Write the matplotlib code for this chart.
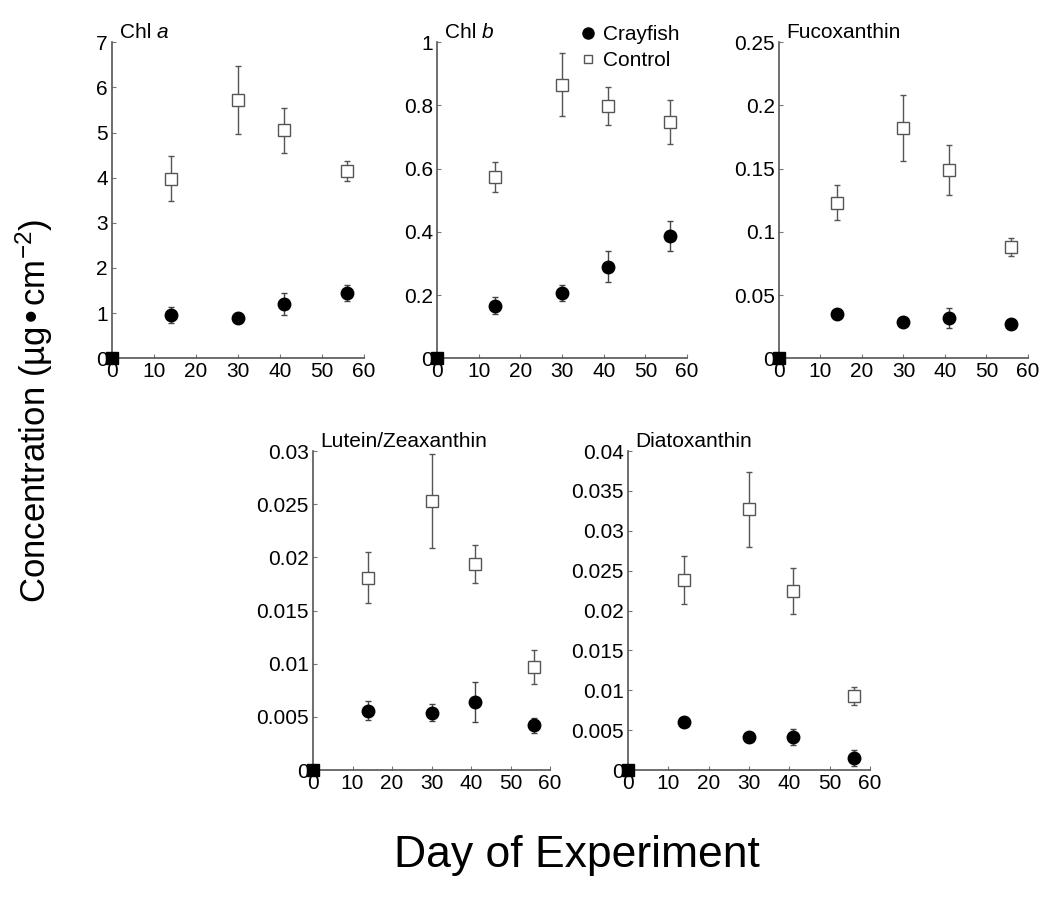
import numpy as np
import matplotlib.pyplot as plt
from matplotlib.lines import Line2D

plt.rcParams["font.family"] = ["Liberation Sans", "DejaVu Sans"]

days = [0, 14, 30, 41, 56]

# Chl a
chla_cray = [0, 0.96, 0.90, 1.20, 1.44]
chla_cray_err = [0, 0.18, 0.10, 0.25, 0.18]
chla_ctrl = [0, 3.98, 5.72, 5.05, 4.15]
chla_ctrl_err = [0, 0.50, 0.75, 0.50, 0.23]

# Chl b
chlb_cray = [0, 0.166, 0.207, 0.290, 0.387]
chlb_cray_err = [0, 0.027, 0.025, 0.048, 0.048]
chlb_ctrl = [0, 0.574, 0.866, 0.797, 0.747]
chlb_ctrl_err = [0, 0.047, 0.100, 0.060, 0.070]

# Fucoxanthin
fuco_cray = [0, 0.035, 0.029, 0.032, 0.027]
fuco_cray_err = [0, 0.003, 0.002, 0.008, 0.003]
fuco_ctrl = [0, 0.123, 0.182, 0.149, 0.088]
fuco_ctrl_err = [0, 0.014, 0.026, 0.020, 0.007]

# Lutein/Zeaxanthin
lut_cray = [0, 0.0056, 0.0054, 0.0064, 0.0042]
lut_cray_err = [0, 0.0009, 0.0008, 0.0019, 0.0007]
lut_ctrl = [0, 0.0181, 0.0253, 0.0194, 0.0097]
lut_ctrl_err = [0, 0.0024, 0.0044, 0.0018, 0.0016]

# Diatoxanthin
diat_cray = [0, 0.0060, 0.0042, 0.0041, 0.0015]
diat_cray_err = [0, 0.0004, 0.0004, 0.0010, 0.0010]
diat_ctrl = [0, 0.0238, 0.0327, 0.0225, 0.0093]
diat_ctrl_err = [0, 0.0030, 0.0047, 0.0029, 0.0011]

panels = [
    # title parts, cray, cray_err, ctrl, ctrl_err, ymax, ystep, rect
    (("Chl ", "a"), chla_cray, chla_cray_err, chla_ctrl, chla_ctrl_err,
     7, 1, [0.107, 0.602, 0.2407, 0.351]),
    (("Chl ", "b"), chlb_cray, chlb_cray_err, chlb_ctrl, chlb_ctrl_err,
     1, 0.2, [0.4174, 0.602, 0.2388, 0.351]),
    (("Fucoxanthin", ""), fuco_cray, fuco_cray_err, fuco_ctrl, fuco_ctrl_err,
     0.25, 0.05, [0.744, 0.602, 0.2378, 0.351]),
    (("Lutein/Zeaxanthin", ""), lut_cray, lut_cray_err, lut_ctrl, lut_ctrl_err,
     0.03, 0.005, [0.299, 0.1444, 0.2264, 0.3544]),
    (("Diatoxanthin", ""), diat_cray, diat_cray_err, diat_ctrl, diat_ctrl_err,
     0.04, 0.005, [0.5998, 0.1444, 0.2311, 0.3544]),
]

fig = plt.figure(figsize=(10.47, 9), dpi=100)

for idx, (title, cray, cray_err, ctrl, ctrl_err, ymax, ystep, rect) in enumerate(panels):
    ax = fig.add_axes(rect)
    ax.errorbar(days[1:], ctrl[1:], yerr=ctrl_err[1:], fmt="s", ms=8,
                mfc="white", mec="#555555", mew=1.0, ecolor="#555555",
                elinewidth=1.0, capsize=2, capthick=1.0, zorder=3,
                clip_on=False)
    ax.errorbar(days[1:], cray[1:], yerr=cray_err[1:], fmt="o", ms=9,
                mfc="black", mec="black", ecolor="#444444",
                elinewidth=1.0, capsize=2, capthick=1.0, zorder=4,
                clip_on=False)
    # day 0 point
    ax.plot(days[0], cray[0], "s", ms=8, color="black", clip_on=False, zorder=5)

    ax.set_xlim(0, 60)
    ax.set_ylim(0, ymax)
    ax.set_xticks(np.arange(0, 61, 10))
    yt = np.round(np.arange(0, ymax + ystep / 2, ystep), 6)
    ax.set_yticks(yt)
    ax.set_yticklabels([f"{v:g}" for v in yt])
    for s in ["top", "right"]:
        ax.spines[s].set_visible(False)
    for s in ["left", "bottom"]:
        ax.spines[s].set_color("#555555")
        ax.spines[s].set_linewidth(1.2)
    ax.tick_params(direction="in", length=3, width=0.8, color="#777777",
                   labelsize=15, pad=3)

    # title next to top of y axis
    t = ax.text(0.03, 1.0, title[0], transform=ax.transAxes, fontsize=15,
                ha="left", va="bottom")
    if title[1]:
        ax.annotate(title[1], xy=(1, 0), xycoords=t,
                    fontsize=15, style="italic", ha="left", va="bottom")

    if idx == 1:
        handles = [
            Line2D([], [], ls="none", marker="o", ms=8, mfc="black", mec="black"),
            Line2D([], [], ls="none", marker="s", ms=6, mfc="white", mec="#555555"),
        ]
        ax.legend(handles, ["Crayfish", "Control"], loc="upper left",
                  bbox_to_anchor=(0.552, 0.972), bbox_transform=fig.transFigure,
                  frameon=False, fontsize=15, handletextpad=0.2,
                  borderpad=0, borderaxespad=0,
                  labelspacing=0.35, handlelength=1.0)

fig.text(0.033, 0.544, "Concentration (\u00b5g\u2022cm$\\mathregular{^{-2}}$)",
         rotation=90, ha="center", va="center", fontsize=25)
fig.text(0.551, 0.05, "Day of Experiment", ha="center", va="center",
         fontsize=32)

fig.savefig("out.png", dpi=100)
